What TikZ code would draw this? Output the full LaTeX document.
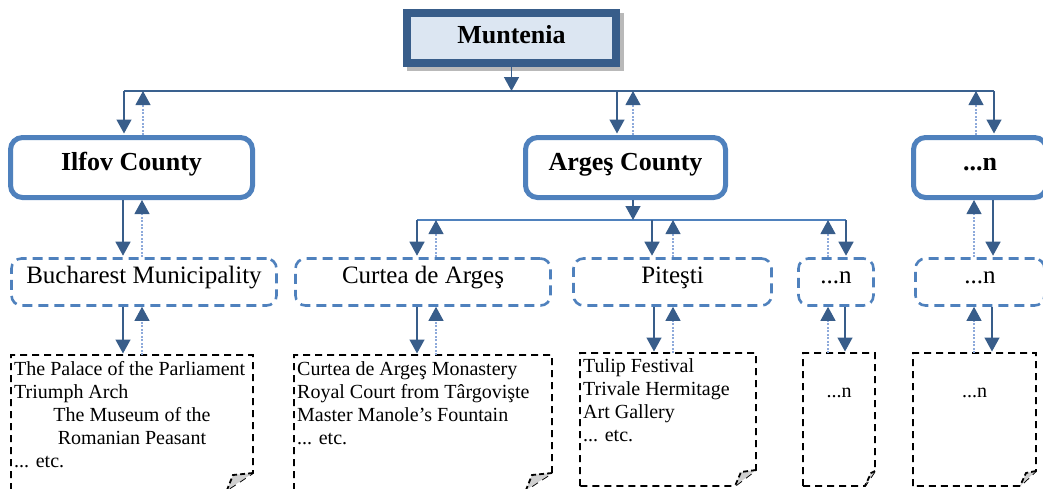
\documentclass[tikz,border=0pt]{standalone}
\usepackage{fontspec}
\setmainfont{Liberation Serif}
\usetikzlibrary{arrows.meta}
\definecolor{dblue}{HTML}{385D8A}
\definecolor{mblue}{HTML}{4F81BD}
\definecolor{lblue}{HTML}{8EAADB}
\definecolor{mfill}{HTML}{DCE6F2}
\definecolor{foldgray}{HTML}{D0D0D0}
\tikzset{
  county/.style={draw=mblue, line width=5pt, rounded corners=12pt, minimum width=#1,
    minimum height=60pt, inner sep=0pt, fill=white,
    font=\fontsize{26}{30}\selectfont\bfseries, text height=13pt, text depth=8pt},
  subbox/.style={draw=mblue, line width=2.6pt, dash pattern=on 10pt off 6pt,
    rounded corners=10pt, minimum width=#1, minimum height=47pt, inner sep=0pt,
    font=\fontsize{25}{30}\selectfont, text height=10pt, text depth=8pt},
  notebox/.style={minimum width=#1, inner sep=0pt, outer sep=0pt},
  notedash/.style={draw=black, line width=1.8pt, dash pattern=on 7pt off 5pt},
  downarr/.style={draw=dblue, line width=1.4pt, shorten >=1.5pt,
    -{Triangle[length=14pt,width=15pt]}, dblue},
  uparr/.style={draw=lblue, line width=1.1pt, dash pattern=on 2pt off 1.5pt, shorten >=0pt,
    -{Triangle[length=14pt,width=15pt,color=dblue,fill=dblue,sep=0pt]}},
  topline/.style={draw=dblue!90!mblue, line width=2pt},
  midline/.style={draw=mblue, line width=2pt},
  ntxt/.style={anchor=base west, inner sep=0pt, font=\fontsize{20}{23}\selectfont},
  ntxtc/.style={anchor=base, inner sep=0pt, font=\fontsize{20}{23}\selectfont},
  nsmall/.style={anchor=base, inner sep=0pt, font=\fontsize{20}{23}\selectfont}
}
\newcommand{\foldnote}[3]{%
  \draw[notedash] (#1.south west) -- (#1.north west) -- (#1.north east)
    -- ([yshift=#3]#1.south east) -- ([xshift=-#2]#1.south east) -- cycle;
  \fill[foldgray] ([yshift=#3]#1.south east) -- ([xshift=-#2+6pt,yshift=#3-2pt]#1.south east)
    -- ([xshift=-#2]#1.south east) -- cycle;
  \draw[notedash, dash pattern=on 5pt off 3pt] ([yshift=#3]#1.south east)
    -- ([xshift=-#2+6pt,yshift=#3-2pt]#1.south east) -- ([xshift=-#2]#1.south east);
}
\begin{document}
\begin{tikzpicture}[x=1pt,y=-1pt]
\useasboundingbox (0,0) rectangle (1043,488);
\clip (0,0) rectangle (1043,488);

% ---- top node
\node[fill=gray!55, minimum width=217pt, minimum height=58pt, inner sep=0pt] (shad) at (515.5,42) {};
\node[draw=dblue, line width=8pt, fill=mfill, minimum width=209pt, minimum height=50pt,
  inner sep=0pt, font=\fontsize{26}{30}\selectfont\bfseries, text height=14pt, text depth=4pt]
  (munt) at (511.5,38) {Muntenia};

% ---- counties
\node[county=242pt] (ilf) at (131.5,167.5) {Ilfov County};
\node[county=200pt] (arg) at (625.5,167.5) {Argeş County};
\node[county=133pt] (cn) at (980,167.5) {...n};

% ---- top line
\coordinate (L1) at (124,91);
\coordinate (R1) at (994,91);
\draw[topline] (L1) -- (R1);
\draw[downarr, shorten >=0pt] (munt.south) -- (munt.south |- L1);
\coordinate (u1) at (143,91);
\coordinate (d2) at (617,91);
\coordinate (u2) at (633,91);
\coordinate (u3) at (976,91);
\draw[downarr] (L1) -- (L1 |- ilf.north);
\draw[uparr] (u1 |- ilf.north) -- (u1);
\draw[downarr] (d2) -- (d2 |- arg.north);
\draw[uparr] (u2 |- arg.north) -- (u2);
\draw[uparr] (u3 |- cn.north) -- (u3);
\draw[downarr] (R1) -- (R1 |- cn.north);

% ---- sub boxes
\node[subbox=265pt] (buc) at (144,282) {Bucharest Municipality};
\node[subbox=255pt] (cur) at (423,282) {Curtea de Argeş};
\node[subbox=198pt] (pit) at (672.5,282) {Piteşti};
\node[subbox=75pt] (sn1) at (836,282) {...n};
\node[subbox=129pt] (sn2) at (980,282) {...n};

% ---- middle line
\coordinate (L2) at (417,220);
\coordinate (R2) at (846,220);
\coordinate (a2) at (633,220);
\draw[midline] (L2) -- (R2);
\draw[downarr, shorten >=0pt] (a2 |- arg.south) -- (a2);
\coordinate (u4) at (436,220);
\coordinate (d5) at (652,220);
\coordinate (u5) at (673,220);
\coordinate (u6) at (828,220);
\draw[downarr] (L2) -- (L2 |- cur.north);
\draw[uparr] (u4 |- cur.north) -- (u4);
\draw[downarr] (d5) -- (d5 |- pit.north);
\draw[uparr] (u5 |- pit.north) -- (u5);
\draw[uparr] (u6 |- sn1.north) -- (u6);
\draw[downarr] (R2) -- (R2 |- sn1.north);

% ---- county -> sub (direct)
\coordinate (x1) at (123,0);
\coordinate (x2) at (142,0);
\draw[downarr] (x1 |- ilf.south) -- (x1 |- buc.north);
\draw[uparr] (x2 |- buc.north) -- (x2 |- ilf.south);
\coordinate (x3) at (974,0);
\coordinate (x4) at (993,0);
\draw[uparr] (x3 |- sn2.north) -- (x3 |- cn.south);
\draw[downarr] (x4 |- cn.south) -- (x4 |- sn2.north);

% ---- notes
\node[notebox=242pt, minimum height=135pt] (n1) at (132,422.5) {};
\node[notebox=258pt, minimum height=135pt] (n2) at (423,422.5) {};
\node[notebox=176pt, minimum height=133pt] (n3) at (668,419.5) {};
\node[notebox=72pt, minimum height=133pt] (n4) at (839,419.5) {};
\node[notebox=123pt, minimum height=133pt] (n5) at (974.5,419.5) {};
\foldnote{n1}{26pt}{17pt}
\foldnote{n2}{26pt}{17pt}
\foldnote{n3}{21pt}{16pt}
\foldnote{n4}{10pt}{15pt}
\foldnote{n5}{16pt}{15pt}

% ---- sub -> notes
\coordinate (y1) at (123,0);
\coordinate (y2) at (142,0);
\draw[downarr] (y1 |- buc.south) -- (y1 |- n1.north);
\draw[uparr] (y2 |- n1.north) -- (y2 |- buc.south);
\coordinate (y3) at (417,0);
\coordinate (y4) at (436,0);
\draw[downarr] (y3 |- cur.south) -- (y3 |- n2.north);
\draw[uparr] (y4 |- n2.north) -- (y4 |- cur.south);
\coordinate (y5) at (654,0);
\coordinate (y6) at (673,0);
\draw[downarr] (y5 |- pit.south) -- (y5 |- n3.north);
\draw[uparr] (y6 |- n3.north) -- (y6 |- pit.south);
\coordinate (y7) at (828,0);
\coordinate (y8) at (845,0);
\draw[uparr] (y7 |- n4.north) -- (y7 |- sn1.south);
\draw[downarr] (y8 |- sn1.south) -- (y8 |- n4.north);
\coordinate (y9) at (974,0);
\coordinate (y10) at (992,0);
\draw[uparr] (y9 |- n5.north) -- (y9 |- sn2.south);
\draw[downarr] (y10 |- sn2.south) -- (y10 |- n5.north);

% ---- note texts
\node[ntxt] (t11) at (14,375) {The Palace of the Parliament};
\node[ntxt] (t12) at (14,398) {Triumph Arch};
\node[ntxtc] (t13) at (132,421) {The Museum of the};
\node[ntxtc] (t14) at (132,444) {Romanian Peasant};
\node[ntxt] (t15) at (14,467) {... etc.};

\node[ntxt] (t21) at (297,375) {Curtea de Argeş Monastery};
\node[ntxt] (t22) at (297,398) {Royal Court from Târgovişte};
\node[ntxt] (t23) at (297,421) {Master Manole’s Fountain};
\node[ntxt] (t24) at (297,444) {... etc.};

\node[ntxt] (t31) at (583,372) {Tulip Festival};
\node[ntxt] (t32) at (583,395) {Trivale Hermitage};
\node[ntxt] (t33) at (583,418) {Art Gallery};
\node[ntxt] (t34) at (583,441) {... etc.};

\node[nsmall] (t41) at (839,397) {...n};
\node[nsmall] (t51) at (974.5,397) {...n};
\end{tikzpicture}
\end{document}
